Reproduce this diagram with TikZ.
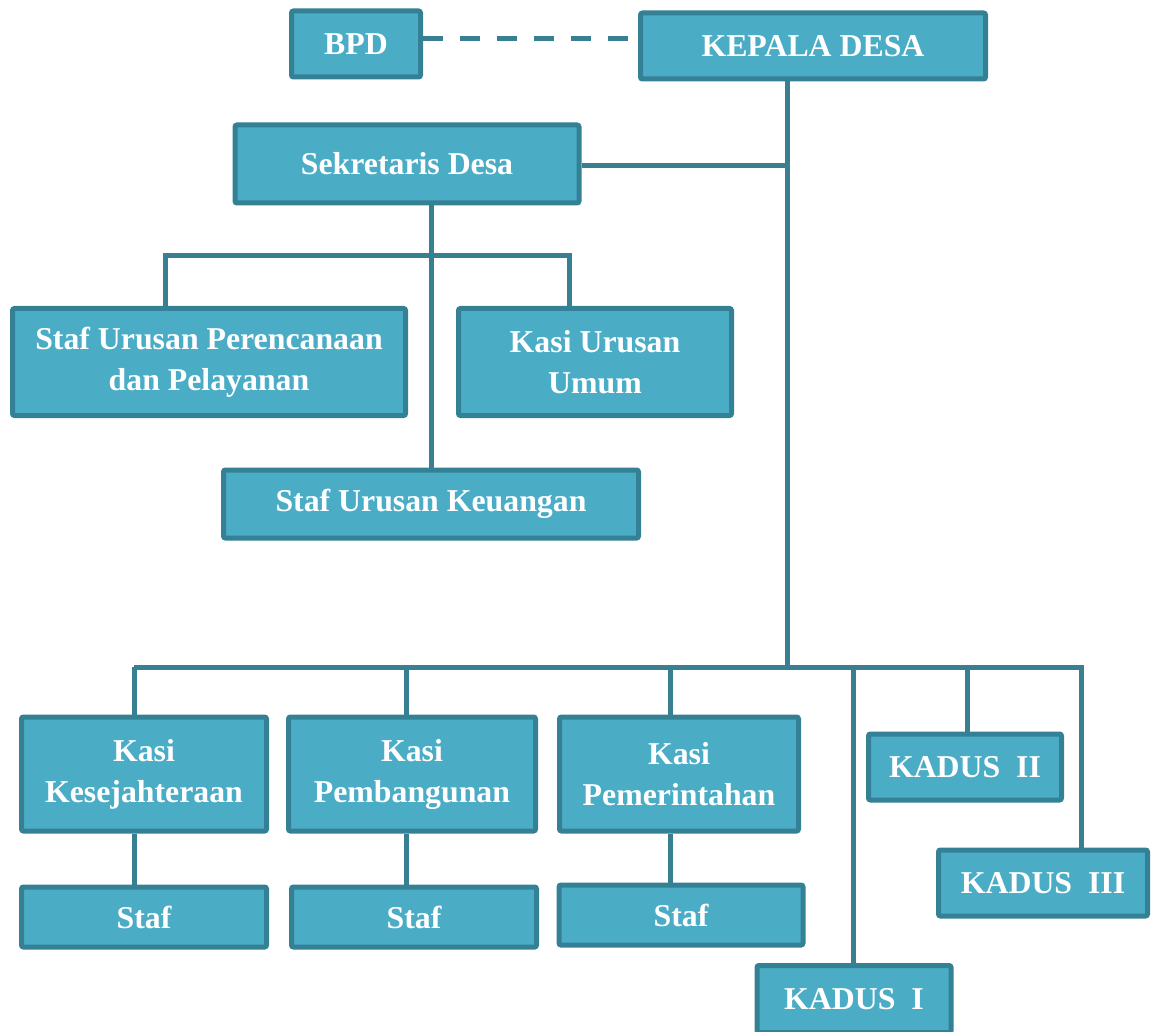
\documentclass[tikz,border=0pt]{standalone}
\usepackage{fontspec}
\setmainfont{Liberation Serif}
\usetikzlibrary{positioning}
\definecolor{boxfill}{RGB}{75,172,198}
\definecolor{boxline}{RGB}{52,128,148}
\definecolor{linkcol}{RGB}{56,128,145}
\begin{document}
\begin{tikzpicture}[x=1pt, y=-1pt,
  bx/.style={draw=boxline, fill=boxfill, line width=5pt, rounded corners=2pt,
    text=white, font=\fontsize{31.8}{41}\selectfont\bfseries, align=center, inner sep=0pt},
  ln/.style={draw=linkcol, line width=5pt}]
\useasboundingbox (0,0) rectangle (1151,1032);
% top row
\node[bx, minimum width=129pt, minimum height=66pt] (bpd) at (356,44) {BPD};
\node[bx, minimum width=345pt, minimum height=66pt] (kd) at (813,46) {KEPALA DESA};
\node[bx, minimum width=344pt, minimum height=78pt] (sd) at (407,164) {Sekretaris Desa};
% sekretariat
\node[bx, minimum width=393pt, minimum height=107pt] (pr) at (209,362) {Staf Urusan Perencanaan\\dan Pelayanan};
\node[bx, minimum width=273pt, minimum height=107pt] (um) at (595,362) {Kasi Urusan\\Umum};
\node[bx, minimum width=415pt, minimum height=68pt] (ku) at (431,504) {Staf Urusan Keuangan};
% kasi dan staf
\node[bx, minimum width=245pt, minimum height=114pt] (ks) at (144,774) {Kasi\\Kesejahteraan};
\node[bx, minimum width=247pt, minimum height=114pt] (pb) at (412,774) {Kasi\\Pembangunan};
\node[bx, minimum width=239pt, minimum height=114pt] (pm) at (679,774) {Kasi\\Pemerintahan};
\node[bx, minimum width=245pt, minimum height=60pt] (st1) at (144,917) {Staf};
\node[bx, minimum width=245pt, minimum height=60pt] (st2) at (414,917) {Staf};
\node[bx, minimum width=244pt, minimum height=60pt] (st3) at (681,915) {Staf};
% kadus
\node[bx, minimum width=193pt, minimum height=66pt] (kd2) at (965,767) {KADUS~~II};
\node[bx, minimum width=209pt, minimum height=66pt] (kd3) at (1043,883) {KADUS~~III};
\node[bx, minimum width=194pt, minimum height=67pt] (kd1) at (854,999) {KADUS~~I};
% junctions
\coordinate (dl) at ([yshift=5pt]bpd.east);
\coordinate (tr) at (787,166);
\coordinate (sa) at (165,256);
\coordinate (sb) at (431,256);
\coordinate (sc) at (569,256);
\coordinate (ba) at (134,667);
\coordinate (bb) at (787,667);
\coordinate (bc) at (1081,667);
% links
\draw[ln, dash pattern=on 20pt off 17pt] (dl) -- (kd.west |- dl);
\draw[ln] (kd.south -| tr) -- (tr) -- (bb);
\draw[ln] (sd.east |- tr) -- (tr);
\draw[ln] (sd.south -| sb) -- (ku.north -| sb);
\draw[ln] (pr.north -| sa) -- (sa) -- (sc) -- (um.north -| sc);
\draw[ln] (ba) -- (bc) -- (kd3.north -| bc);
\draw[ln] (ba) -- (ks.north -| ba);
\draw[ln] (ks.south -| ba) -- (st1.north -| ba);
\draw[ln] (pb.north -| 406,667) -- (406,667);
\draw[ln] (pb.south -| 406,0) -- (st2.north -| 406,0);
\draw[ln] (pm.north -| 670,667) -- (670,667);
\draw[ln] (pm.south -| 670,0) -- (st3.north -| 670,0);
\draw[ln] (kd1.north -| 853,0) -- (853,667);
\draw[ln] (kd2.north -| 967,0) -- (967,667);
\end{tikzpicture}
\end{document}
